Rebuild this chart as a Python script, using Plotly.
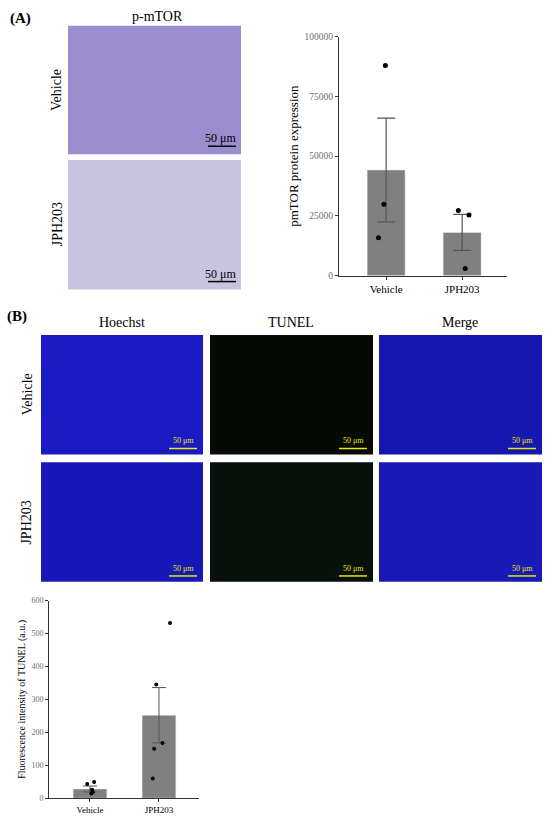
import plotly.graph_objects as go

# ---- data ----
groups = ["Vehicle", "JPH203"]

# (A) pmTOR protein expression
mtor_mean = [44200, 18100]
mtor_sem = [21700, 7500]
mtor_vehicle_pts = [87900, 29900, 15900]
mtor_jph_pts = [27300, 25400, 3000]
mtor_ticks = [0, 25000, 50000, 75000, 100000]

# (B) TUNEL fluorescence intensity
tunel_mean = [28, 252]
tunel_sem = [9, 84]
tunel_vehicle_pts = [43, 49, 26, 18, 14]
tunel_jph_pts = [532, 345, 168, 150, 60]
tunel_ticks = [0, 100, 200, 300, 400, 500, 600]

W, H = 550, 819
SERIF = "Liberation Serif"


def px(x):
    return x / W


def py(y):
    return 1 - y / H


# point jitter (horizontal offsets in category units)
jit_a = [[-0.01, -0.03, -0.10], [-0.05, 0.09, 0.04]]
jit_b = [[-0.04, 0.06, 0.03, 0.04, 0.02], [0.16, -0.04, 0.05, -0.07, -0.09]]

fig = go.Figure()

# bars A
fig.add_trace(go.Bar(
    x=[0, 1], y=mtor_mean, width=0.5, marker_color="#808080",
    error_y=dict(type="data", array=mtor_sem, color="#555555", thickness=1.2, width=9),
    xaxis="x", yaxis="y", showlegend=False))
for i, pts in enumerate([mtor_vehicle_pts, mtor_jph_pts]):
    fig.add_trace(go.Scatter(
        x=[i + j for j in jit_a[i]], y=pts, mode="markers",
        marker=dict(color="black", size=5), xaxis="x", yaxis="y", showlegend=False))

# bars B
fig.add_trace(go.Bar(
    x=[0, 1], y=tunel_mean, width=0.49, marker_color="#808080",
    error_y=dict(type="data", array=tunel_sem, color="#555555", thickness=1, width=7),
    xaxis="x2", yaxis="y2", showlegend=False))
for i, pts in enumerate([tunel_vehicle_pts, tunel_jph_pts]):
    fig.add_trace(go.Scatter(
        x=[i + j for j in jit_b[i]], y=pts, mode="markers",
        marker=dict(color="black", size=4), xaxis="x2", yaxis="y2", showlegend=False))

axis_common = dict(showgrid=False, zeroline=False, showline=True, linecolor="#333333",
                   linewidth=1, ticks="outside", tickcolor="#333333", ticklen=3)

fig.update_layout(
    width=W, height=H, margin=dict(l=0, r=0, t=0, b=0),
    paper_bgcolor="white", plot_bgcolor="white",
    font=dict(family=SERIF, color="black"),
    xaxis=dict(domain=[px(339), px(507)], range=[-0.62, 1.59], anchor="y",
               tickvals=[0, 1], ticktext=groups, tickfont=dict(size=11, color="black"),
               **axis_common),
    yaxis=dict(domain=[py(274), py(32)], range=[0, 100000], anchor="x",
               tickvals=mtor_ticks, tickformat="d", tickfont=dict(size=9.5, color="#6e6e6e"),
               title=dict(text="pmTOR protein expression", font=dict(size=13), standoff=3),
               **axis_common),
    xaxis2=dict(domain=[px(49), px(199)], range=[-0.594, 1.58], anchor="y2",
                tickvals=[0, 1], ticktext=groups, tickfont=dict(size=9, color="black"),
                **axis_common),
    yaxis2=dict(domain=[py(803), py(603)], range=[0, 600], anchor="x2",
                tickvals=tunel_ticks, tickfont=dict(size=8, color="#6e6e6e"),
                title=dict(text="Fluorescence intensity of TUNEL (a.u.)", font=dict(size=10),
                           standoff=3),
                **axis_common),
)

# ---- micrograph panels as flat tiles ----
tiles = [
    # (x0, y0, x1, y1, colour)
    (68, 21, 241, 151, "#9a8ccd"),
    (68, 157, 241, 288, "#c9c3e2"),
    (41, 334, 203, 455, "#1a1ac4"),
    (210, 334, 373, 455, "#050a05"),
    (379, 334, 542, 455, "#1616b0"),
    (41, 463, 203, 584, "#1717b8"),
    (210, 463, 373, 584, "#07100a"),
    (379, 463, 542, 584, "#1919b8"),
]
for x0, y0, x1, y1, c in tiles:
    fig.add_shape(type="rect", xref="paper", yref="paper",
                  x0=px(x0), x1=px(x1), y0=py(y1), y1=py(y0),
                  fillcolor=c, line=dict(width=0), layer="below")


def label(x, y, t, size, color="black", angle=0):
    fig.add_annotation(x=px(x), y=py(y), xref="paper", yref="paper", text=t,
                       showarrow=False, textangle=angle, xanchor="center",
                       yanchor="middle", font=dict(size=size, color=color))


# scale bars (A, black)
for ybar in (143, 280):
    fig.add_shape(type="line", xref="paper", yref="paper",
                  x0=px(208), x1=px(236), y0=py(ybar), y1=py(ybar),
                  line=dict(color="black", width=1.5))
    label(220, ybar - 8, "50 μm", 12)

# scale bars (B, yellow)
for xr in (203, 373, 542):
    for yb in (449, 578):
        fig.add_shape(type="line", xref="paper", yref="paper",
                      x0=px(xr - 34), x1=px(xr - 6), y0=py(yb), y1=py(yb),
                      line=dict(color="#e8e800", width=1.5))
        label(xr - 20, yb - 8, "50 μm", 8, color="#e8e800")

# panel labels and headers
label(20, 14, "<b>(A)</b>", 15)
label(157, 12, "p-mTOR", 14)
label(57, 86, "Vehicle", 14, angle=-90)
label(57, 222, "JPH203", 14, angle=-90)
label(17, 315, "<b>(B)</b>", 15)
label(122, 321, "Hoechst", 14)
label(291, 321, "TUNEL", 14)
label(460, 321, "Merge", 14)
label(27, 394, "Vehicle", 14, angle=-90)
label(27, 524, "JPH203", 14, angle=-90)

# drop the default body margin so the figure fills the window exactly
fig.write_html("out.html", config={"displayModeBar": False},
               post_script="document.body.style.margin='0';")
